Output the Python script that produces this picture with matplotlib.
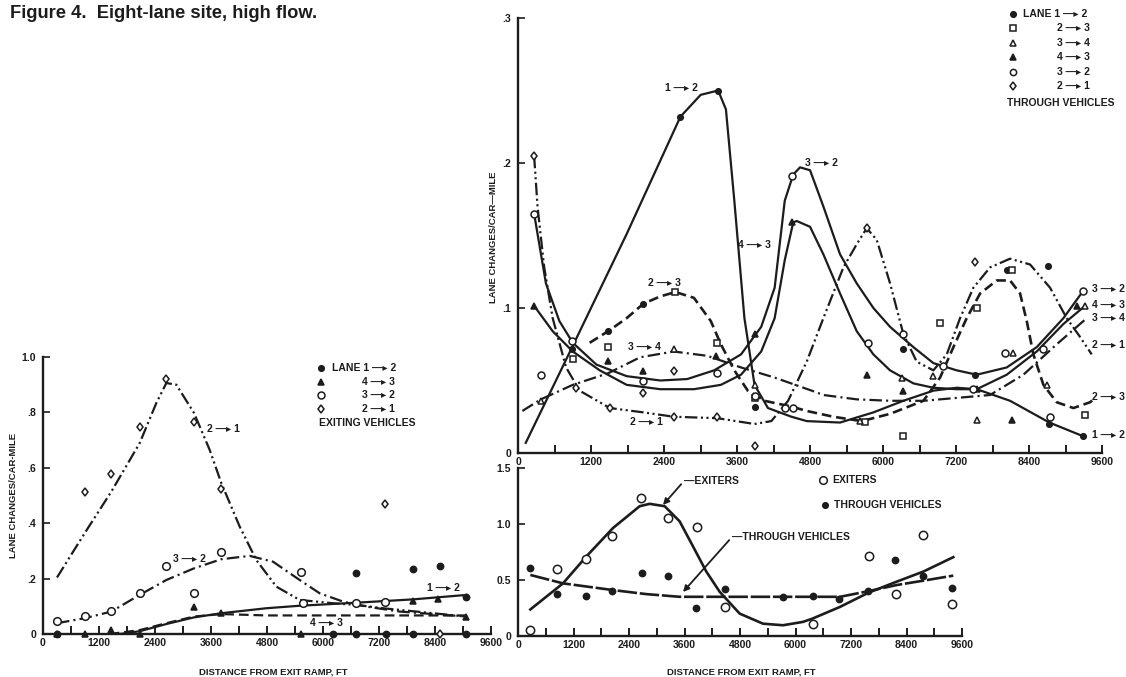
import matplotlib
matplotlib.use('Agg')
import matplotlib.pyplot as plt
from matplotlib.lines import Line2D
import numpy as np

plt.rcParams['font.family'] = ['Liberation Sans', 'DejaVu Sans']
plt.rcParams['font.weight'] = 'bold'
plt.rcParams['lines.scale_dashes'] = False

# ---------------- data: left panel (exiting vehicles) ----------------
x_ticks = [0, 1200, 2400, 3600, 4800, 6000, 7200, 8400, 9600]
x_ticklabels = ['0', '1200', '2400', '3600', '4800', '6000', '7200', '8400', '9600']

ex12_x = [300, 6214, 6714, 7357, 7929, 9071, 6714, 7929, 8500, 9071]
ex12_y = [0, 0, 0, 0, 0, 0, 0.219, 0.236, 0.247, 0.135]
ex43_x = [300, 893, 1464, 2071, 3236, 3821, 5536, 7929, 8464, 9071]
ex43_y = [0, 0, 0.014, 0, 0.099, 0.075, 0, 0.118, 0.128, 0.063]
ex32_x = [300, 893, 1464, 2071, 2643, 3236, 3821, 5536, 5570, 6714, 7336]
ex32_y = [0.048, 0.065, 0.083, 0.147, 0.246, 0.147, 0.296, 0.223, 0.111, 0.111, 0.114]
ex21_x = [893, 1464, 2071, 2643, 3236, 3821, 7336, 8500]
ex21_y = [0.512, 0.577, 0.746, 0.922, 0.767, 0.522, 0.469, 0.0]

ex21_cx = [300, 893, 1464, 2071, 2429, 2643, 2857, 3236, 3571, 3821, 4214, 4571, 5000, 5500, 6214, 6714, 7286, 8000, 9071]
ex21_cy = [0.204, 0.364, 0.514, 0.689, 0.834, 0.906, 0.900, 0.798, 0.665, 0.545, 0.388, 0.267, 0.171, 0.123, 0.111, 0.105, 0.093, 0.081, 0.063]
ex32_cx = [300, 893, 1464, 2071, 2643, 3236, 3821, 4429, 4929, 5500, 5929, 6429, 6929, 7643, 8357, 9071]
ex32_cy = [0.039, 0.057, 0.081, 0.141, 0.195, 0.237, 0.270, 0.282, 0.261, 0.195, 0.147, 0.117, 0.099, 0.081, 0.072, 0.063]
ex43_cx = [1429, 2071, 2643, 3236, 3821, 4786, 6214, 7643, 9071]
ex43_cy = [0.0, 0.014, 0.039, 0.063, 0.072, 0.067, 0.067, 0.067, 0.067]
ex12_cx = [1643, 2071, 2643, 3236, 3821, 4786, 5500, 6714, 7929, 9071]
ex12_cy = [0.0, 0.010, 0.036, 0.060, 0.075, 0.093, 0.102, 0.113, 0.125, 0.141]

# ---------------- data: top-right panel (through vehicles) ----------------
th12_x = [890, 1482, 2063, 2671, 3290, 3888, 6335, 7513, 8735, 9294, 8034, 8719]
th12_y = [0.0715, 0.084, 0.103, 0.232, 0.250, 0.032, 0.0715, 0.054, 0.020, 0.0115, 0.126, 0.129]
th23_x = [900, 1482, 2588, 3279, 3888, 5705, 6335, 6938, 7541, 8116, 9322]
th23_y = [0.065, 0.073, 0.111, 0.076, 0.038, 0.0215, 0.0115, 0.090, 0.100, 0.126, 0.0265]
th34_x = [376, 2560, 3888, 5623, 6308, 6828, 7541, 8133, 8692, 9322]
th34_y = [0.036, 0.0715, 0.047, 0.022, 0.052, 0.053, 0.023, 0.069, 0.047, 0.1015]
th43_x = [265, 1482, 2063, 3252, 3888, 4496, 5732, 6335, 7541, 8116, 9196]
th43_y = [0.1015, 0.0635, 0.0565, 0.067, 0.082, 0.159, 0.054, 0.043, 0.044, 0.023, 0.1015]
th32_x = [265, 376, 890, 2063, 3279, 3888, 4385, 4524, 4496, 5760, 6335, 6993, 7486, 8006, 8637, 8746, 9294]
th32_y = [0.165, 0.054, 0.077, 0.050, 0.055, 0.039, 0.031, 0.031, 0.191, 0.076, 0.082, 0.060, 0.044, 0.069, 0.0715, 0.025, 0.112]
th21_x = [265, 957, 1510, 2063, 2560, 2560, 3279, 3888, 5732, 7513]
th21_y = [0.205, 0.045, 0.031, 0.0415, 0.025, 0.0565, 0.025, 0.0046, 0.155, 0.1315]

th12_cx = [127, 890, 1786, 2671, 3003, 3290, 3418, 3556, 3722, 3888, 4109, 4496, 4746, 5294, 5842, 6335, 6828, 7212, 7541, 8089, 8735, 9294]
th12_cy = [0.007, 0.073, 0.151, 0.232, 0.247, 0.250, 0.237, 0.174, 0.093, 0.047, 0.031, 0.025, 0.022, 0.021, 0.028, 0.036, 0.043, 0.045, 0.044, 0.036, 0.021, 0.0115]
th32_cx = [265, 459, 680, 901, 1288, 1786, 2339, 2782, 3224, 3666, 3998, 4219, 4385, 4524, 4636, 4801, 5020, 5294, 5568, 5842, 6116, 6500, 6828, 7212, 7541, 8034, 8527, 8966, 9294]
th32_cy = [0.165, 0.117, 0.091, 0.076, 0.061, 0.053, 0.050, 0.051, 0.057, 0.068, 0.087, 0.114, 0.174, 0.192, 0.197, 0.195, 0.170, 0.137, 0.117, 0.100, 0.087, 0.073, 0.062, 0.057, 0.054, 0.059, 0.073, 0.093, 0.112]
th43_cx = [265, 570, 901, 1344, 1786, 2339, 2892, 3335, 3666, 3998, 4219, 4385, 4524, 4582, 4801, 5020, 5294, 5568, 5842, 6116, 6500, 6828, 7212, 7541, 8034, 8527, 8966, 9322]
th43_cy = [0.1015, 0.084, 0.070, 0.057, 0.047, 0.044, 0.044, 0.047, 0.054, 0.070, 0.093, 0.133, 0.159, 0.160, 0.156, 0.137, 0.110, 0.084, 0.068, 0.057, 0.048, 0.045, 0.044, 0.044, 0.054, 0.070, 0.089, 0.1015]
th34_cx = [72, 376, 901, 1482, 2007, 2560, 3113, 3666, 4219, 4828, 5020, 5568, 6116, 6664, 7212, 7760, 8308, 8856, 9322]
th34_cy = [0.029, 0.037, 0.047, 0.055, 0.066, 0.070, 0.067, 0.059, 0.052, 0.043, 0.040, 0.037, 0.036, 0.036, 0.038, 0.040, 0.054, 0.075, 0.092]
th23_cx = [1178, 1482, 1786, 2063, 2339, 2588, 2892, 3169, 3335, 3556, 3777, 4053, 4496, 4746, 5184, 5650, 6116, 6664, 6938, 7157, 7376, 7596, 7870, 8089, 8253, 8363, 8472, 8637, 8856, 9130, 9404, 9486]
th23_cy = [0.076, 0.084, 0.093, 0.103, 0.108, 0.111, 0.107, 0.091, 0.075, 0.057, 0.043, 0.036, 0.032, 0.029, 0.025, 0.022, 0.027, 0.036, 0.052, 0.073, 0.093, 0.110, 0.119, 0.119, 0.110, 0.091, 0.068, 0.047, 0.035, 0.031, 0.035, 0.038]
th21_cx = [265, 321, 431, 570, 791, 1012, 1510, 2063, 2560, 3279, 3888, 4164, 4440, 4746, 5020, 5349, 5568, 5732, 5897, 6116, 6335, 6554, 6828, 7048, 7267, 7486, 7760, 8089, 8418, 8746, 9020, 9240, 9431]
th21_cy = [0.205, 0.170, 0.128, 0.093, 0.059, 0.043, 0.031, 0.028, 0.025, 0.024, 0.020, 0.022, 0.036, 0.063, 0.093, 0.128, 0.144, 0.155, 0.147, 0.117, 0.082, 0.063, 0.057, 0.068, 0.093, 0.114, 0.128, 0.134, 0.130, 0.114, 0.093, 0.080, 0.068]

# ---------------- data: bottom-right panel (totals) ----------------
exiters_x = [267, 843, 1477, 2040, 2667, 3243, 3870, 4475, 6371, 7596, 8172, 8749, 9390]
exiters_y = [0.05, 0.596, 0.689, 0.895, 1.228, 1.054, 0.970, 0.260, 0.11, 0.71, 0.374, 0.904, 0.29]
through_x = [267, 850, 1477, 2040, 2681, 3243, 3856, 4475, 5730, 6371, 6947, 7574, 8157, 8749, 9383]
through_y = [0.605, 0.374, 0.359, 0.404, 0.566, 0.536, 0.246, 0.416, 0.350, 0.356, 0.332, 0.401, 0.680, 0.539, 0.425]
exiters_cx = [267, 973, 1477, 2054, 2631, 2847, 3171, 3495, 3784, 4072, 4360, 4793, 5297, 5730, 6162, 6371, 6963, 7574, 8186, 8763, 9412]
exiters_cy = [0.237, 0.47, 0.71, 0.964, 1.159, 1.18, 1.159, 1.024, 0.80, 0.575, 0.395, 0.20, 0.11, 0.096, 0.126, 0.156, 0.26, 0.386, 0.485, 0.575, 0.704]
through_cx = [267, 973, 2054, 2775, 3495, 4576, 6306, 6963, 7574, 8186, 8763, 9412]
through_cy = [0.545, 0.47, 0.41, 0.374, 0.35, 0.35, 0.35, 0.35, 0.40, 0.455, 0.494, 0.539]

# ---------------- figure ----------------
W, H = 1126, 677
fig = plt.figure(figsize=(W / 100, H / 100), dpi=100)
INK = '#1c1c1c'
ARW = ' \u2014\u25B8 '   # long arrow used in the lane labels

def px_axes(x0, x1, ytop, ybot):
    ax = fig.add_axes([x0 / W, 1 - ybot / H, (x1 - x0) / W, (ybot - ytop) / H])
    ax.patch.set_alpha(0)
    return ax

def style(ax, ymax, yticks, ylabels):
    ax.set_xlim(0, 9600)
    ax.set_ylim(0, ymax)
    for s in ['top', 'right']:
        ax.spines[s].set_visible(False)
    for s in ['left', 'bottom']:
        ax.spines[s].set_linewidth(1.7)
        ax.spines[s].set_color(INK)
    ax.set_xticks(x_ticks)
    ax.set_xticklabels(x_ticklabels)
    ax.set_xticks([600 + 1200 * i for i in range(8)], minor=True)
    ax.set_yticks(yticks)
    ax.set_yticklabels(ylabels)
    ax.tick_params(axis='x', which='both', direction='in', length=6, width=1.4,
                   colors=INK, labelsize=7.5, pad=3)
    ax.tick_params(axis='y', direction='in', length=5, width=1.2,
                   colors=INK, labelsize=7.5, pad=5)

def T(x, y, s, size=7, **kw):
    kw.setdefault('va', 'center')
    kw.setdefault('ha', 'left')
    fig.text(x / W, 1 - y / H, s, fontsize=size, color=INK, fontweight='bold', **kw)

def lane(a, b):
    return f'{a}{ARW}{b}'

def fig_marker(x, y, marker, filled, ms=4.5):
    fig.add_artist(Line2D([x / W], [1 - y / H], marker=marker, ms=ms, color=INK,
                          mfc=INK if filled else 'white', mew=1.1, ls='none'))

SOLID = dict(ls='-')
DASH = dict(ls=(0, (7, 3.5)))
DASHDOT = dict(ls=(0, (9, 3, 1.5, 3)))
DASHDOTDOT = dict(ls=(0, (9, 2.5, 1.5, 2.5, 1.5, 2.5)))
LW = 1.6

def scatter(ax, x, y, marker, filled, ms=4.5):
    ax.plot(x, y, ls='none', marker=marker, ms=ms, color=INK,
            mfc=INK if filled else 'white', mew=1.1, clip_on=False, zorder=5)

# ---- left panel ----
axL = px_axes(43, 491, 357, 634)
style(axL, 1.0, [0, 0.2, 0.4, 0.6, 0.8, 1.0], ['0', '.2', '.4', '.6', '.8', '1.0'])
axL.plot(ex21_cx, ex21_cy, color=INK, lw=LW, **DASHDOTDOT)
axL.plot(ex32_cx, ex32_cy, color=INK, lw=LW, **DASHDOT)
axL.plot(ex43_cx, ex43_cy, color=INK, lw=LW, **DASH)
axL.plot(ex12_cx, ex12_cy, color=INK, lw=LW, **SOLID)
scatter(axL, ex12_x, ex12_y, 'o', True)
scatter(axL, ex43_x, ex43_y, '^', True)
scatter(axL, ex32_x, ex32_y, 'o', False, ms=5.5)
scatter(axL, ex21_x, ex21_y, 'd', False, ms=4.5)

# ---- top-right panel ----
axT = px_axes(518, 1102, 18, 453)
style(axT, 0.3, [0, 0.1, 0.2, 0.3], ['0', '.1', '.2', '.3'])
axT.plot(th12_cx, th12_cy, color=INK, lw=LW, **SOLID)
axT.plot(th32_cx, th32_cy, color=INK, lw=LW, **SOLID)
axT.plot(th43_cx, th43_cy, color=INK, lw=LW, **SOLID)
axT.plot(th34_cx, th34_cy, color=INK, lw=LW, **DASHDOT)
axT.plot(th23_cx, th23_cy, color=INK, lw=LW + 0.3, **DASH)
axT.plot(th21_cx, th21_cy, color=INK, lw=LW, **DASHDOTDOT)
scatter(axT, th12_x, th12_y, 'o', True, ms=4)
scatter(axT, th23_x, th23_y, 's', False, ms=4.5)
scatter(axT, th34_x, th34_y, '^', False, ms=4.5)
scatter(axT, th43_x, th43_y, '^', True, ms=4.5)
scatter(axT, th32_x, th32_y, 'o', False, ms=5)
scatter(axT, th21_x, th21_y, 'd', False, ms=4.5)

# ---- bottom-right panel ----
axB = px_axes(518, 962, 468, 636)
style(axB, 1.5, [0, 0.5, 1.0, 1.5], ['0', '0.5', '1.0', '1.5'])
axB.plot(exiters_cx, exiters_cy, color=INK, lw=LW + 0.3, **SOLID)
axB.plot(through_cx, through_cy, color=INK, lw=LW + 0.3, ls=(0, (14, 2)))
scatter(axB, exiters_x, exiters_y, 'o', False, ms=6)
scatter(axB, through_x, through_y, 'o', True, ms=4.5)
arrow = dict(arrowstyle='-|>', color=INK, lw=1.3, shrinkA=0, shrinkB=0,
             relpos=(0, 0.5), mutation_scale=9)
axB.annotate('\u2014EXITERS', xy=(3135, 1.17), xytext=(3589, 1.384),
             fontsize=7.5, fontweight='bold', color=INK, ha='left', va='center',
             arrowprops=arrow)
axB.annotate('\u2014THROUGH VEHICLES', xy=(3568, 0.393), xytext=(4627, 0.884),
             fontsize=7.5, fontweight='bold', color=INK, ha='left', va='center',
             arrowprops=arrow)

# ---- texts ----
T(10, 14, 'Figure 4.  Eight-lane site, high flow.', size=13.2)

T(14, 495, 'LANE CHANGES/CAR-MILE', size=6.8, rotation=90, ha='center')
T(273, 672, 'DISTANCE FROM EXIT RAMP, FT', size=6.8, ha='center')
T(494, 237, 'LANE CHANGES/CAR\u2014MILE', size=6.8, rotation=90, ha='center')
T(741, 672, 'DISTANCE FROM EXIT RAMP, FT', size=6.8, ha='center')

# left legend
fig_marker(321, 368, 'o', True, ms=4)
T(332, 368, 'LANE ' + lane(1, 2), size=7.5)
fig_marker(321, 382, '^', True)
T(362, 382, lane(4, 3), size=7.5)
fig_marker(321, 395, 'o', False, ms=5)
T(362, 395, lane(3, 2), size=7.5)
fig_marker(321, 409, 'd', False)
T(362, 409, lane(2, 1), size=7.5)
T(319, 423, 'EXITING VEHICLES', size=7.5)

# left inline labels
T(207, 429, lane(2, 1), size=7.5)
T(173, 559, lane(3, 2), size=7.5)
T(310, 623, lane(4, 3), size=7.5)
T(427, 588, lane(1, 2), size=7.5)

# top-right legend
fig_marker(1013, 14, 'o', True, ms=4)
T(1023, 14, 'LANE ' + lane(1, 2), size=7.5)
fig_marker(1013, 28, 's', False)
T(1057, 28, lane(2, 3), size=7.5)
fig_marker(1013, 43, '^', False)
T(1057, 43, lane(3, 4), size=7.5)
fig_marker(1013, 57, '^', True)
T(1057, 57, lane(4, 3), size=7.5)
fig_marker(1013, 72, 'o', False)
T(1057, 72, lane(3, 2), size=7.5)
fig_marker(1013, 86, 'd', False)
T(1057, 86, lane(2, 1), size=7.5)
T(1007, 103, 'THROUGH VEHICLES', size=7.5)

# top-right inline labels
T(665, 88, lane(1, 2), size=7.5)
T(805, 163, lane(3, 2), size=7.5)
T(738, 245, lane(4, 3), size=7.5)
T(648, 283, lane(2, 3), size=7.5)
T(628, 347, lane(3, 4), size=7.5)
T(630, 422, lane(2, 1), size=7.5)
# right-edge labels (cut by the page edge)
T(1092, 289, lane(3, 2), size=7.5)
T(1092, 305, lane(4, 3), size=7.5)
T(1092, 318, lane(3, 4), size=7.5)
T(1092, 345, lane(2, 1), size=7.5)
T(1092, 397, lane(2, 3), size=7.5)
T(1092, 435, lane(1, 2), size=7.5)

# bottom-right legend
fig_marker(823, 480, 'o', False, ms=5.5)
T(832, 480, 'EXITERS', size=7.5)
fig_marker(825, 505, 'o', True, ms=4)
T(834, 505, 'THROUGH VEHICLES', size=7.5)

fig.savefig('out.png', dpi=100, facecolor='white')
